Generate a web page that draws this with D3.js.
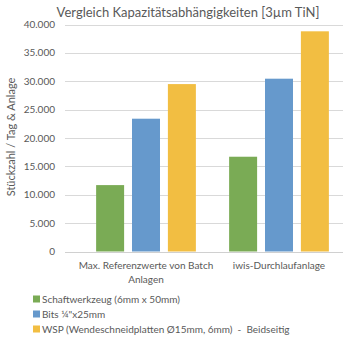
<!DOCTYPE html>
<html><head><meta charset="utf-8">
<script src="https://cdn.jsdelivr.net/npm/d3@7"></script>
<style>body{margin:0;background:#fff}svg{display:block}text{font-family:Lato,"Open Sans",sans-serif;fill:#595959;white-space:pre}</style>
</head><body><div id="c"></div>
<script>
const categories = [["Max. Referenzwerte von Batch","Anlagen"],["iwis-Durchlaufanlage"]];
const seriesNames = ["Schaftwerkzeug (6mm x 50mm)","Bits ¼\"x25mm","WSP (Wendeschneidplatten Ø15mm, 6mm)  -  Beidseitig"];
const seriesColors = ["#7AAB55","#6699CC","#F2BE42"];
const values = [[11700,16700],[23400,30450],[29500,38800]];
const yTicks = [0,5000,10000,15000,20000,25000,30000,35000,40000];
const title = "Vergleich Kapazitätsabhängigkeiten [3µm TiN]";
const yTitle = "Stückzahl / Tag & Anlage";

const W=343,H=337;
const svg=d3.select("#c").append("svg").attr("width",W).attr("height",H);
const y=d3.scaleLinear().domain([0,40000]).range([251.5,24.5]);
const x0=d3.scaleBand().domain(d3.range(categories.length)).range([79.5,345.5]).paddingInner(0.25).paddingOuter(0.125);
const x1=d3.scaleBand().domain(d3.range(seriesNames.length)).range([0,x0.bandwidth()]).paddingInner(0.22).paddingOuter(0);
const fmt=v=>d3.format(",")(v).replace(/,/g,".");

svg.append("g").selectAll("line").data(yTicks.slice(1)).join("line")
 .attr("x1",65).attr("x2",343).attr("y1",d=>Math.round(y(d))+0.5).attr("y2",d=>Math.round(y(d))+0.5)
 .attr("stroke","#d9d9d9").attr("stroke-width",1);
svg.append("g").selectAll("text").data(yTicks).join("text")
 .attr("x",55).attr("y",d=>y(d)).attr("dy","0.35em").attr("text-anchor","end")
 .attr("font-size",10).text(fmt);
seriesNames.forEach((s,si)=>{
  svg.append("g").selectAll("rect").data(values[si]).join("rect")
   .attr("x",(d,ci)=>x0(ci)+x1(si)).attr("width",x1.bandwidth())
   .attr("y",d=>y(d)).attr("height",d=>y(0)-y(d)).attr("fill",seriesColors[si]);
});
svg.append("line").attr("x1",65).attr("x2",343).attr("y1",Math.round(y(0))+0.5).attr("y2",Math.round(y(0))+0.5)
 .attr("stroke","#d0d0d0");
categories.forEach((lines,ci)=>{
  const cx=x0(ci)+x0.bandwidth()/2;
  const t=svg.append("text").attr("x",cx).attr("y",269).attr("text-anchor","middle").attr("font-size",10);
  lines.forEach((l,i)=>t.append("tspan").attr("x",cx).attr("dy",i?14:0).text(l));
});
svg.append("text").attr("x",188).attr("y",17).attr("text-anchor","middle").attr("font-size",13).text(title);
svg.append("text").attr("transform","translate(15,137) rotate(-90)").attr("text-anchor","middle").attr("font-size",11).text(yTitle);
const lg=svg.append("g").selectAll("g").data(seriesNames).join("g").attr("transform",(d,i)=>`translate(33,${299+i*15})`);
lg.append("rect").attr("x",0).attr("y",-3.5).attr("width",7).attr("height",7).attr("fill",(d,i)=>seriesColors[i]);
lg.append("text").attr("x",9).attr("y",0).attr("dy","0.35em").attr("font-size",10).text(d=>d);
</script></body></html>
